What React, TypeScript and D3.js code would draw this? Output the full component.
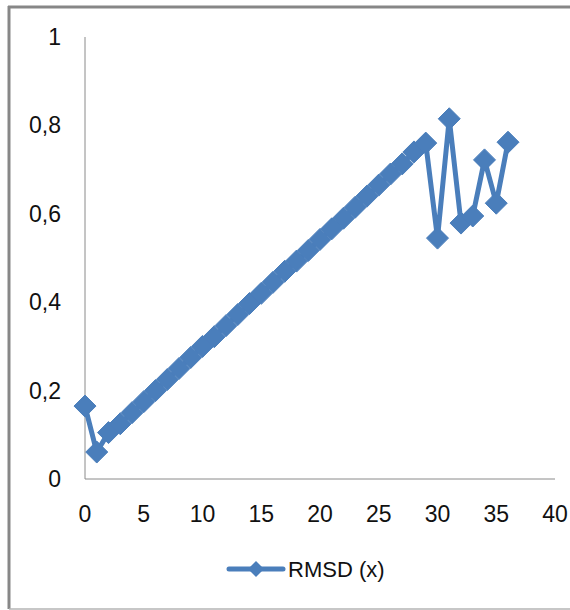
import React from "react";
import * as d3 from "d3";

const xValues: number[] = Array.from({ length: 37 }, (_, i) => i);
const rmsd: number[] = [
  0.165, 0.061, 0.105, 0.125, 0.15, 0.175, 0.2, 0.225, 0.25, 0.275, 0.3,
  0.322, 0.347, 0.372, 0.397, 0.42, 0.445, 0.47, 0.493, 0.517, 0.542, 0.566,
  0.59, 0.615, 0.64, 0.665, 0.69, 0.713, 0.74, 0.76, 0.545, 0.815, 0.579,
  0.595, 0.722, 0.624, 0.762,
];
const xTicks: number[] = [0, 5, 10, 15, 20, 25, 30, 35, 40];
const yTicks: number[] = [0, 0.2, 0.4, 0.6, 0.8, 1];
const seriesName = "RMSD (x)";

const W = 570;
const H = 610;
const color = "#4A7EBB";
const font = "'Liberation Sans', Arial, sans-serif";

export default function App() {
  const x = d3.scaleLinear().domain([0, 40]).range([85, 555]);
  const y = d3.scaleLinear().domain([0, 1]).range([479, 37]);
  const pts = xValues.map((v, i) => [x(v), y(rmsd[i])] as [number, number]);
  const line = d3.line()(pts) || "";
  const diamond = (cx: number, cy: number, r: number) =>
    `M${cx},${cy - r}L${cx + r},${cy}L${cx},${cy + r}L${cx - r},${cy}Z`;
  const fmt = (v: number) => String(v).replace(".", ",");

  return (
    <svg
      width={W}
      height={H}
      style={{ position: "absolute", left: 0, top: 0 }}
    >
      <rect x={0} y={0} width={W} height={H} fill="#fff" />
      {/* frame */}
      <line x1={9} y1={6} x2={9} y2={609} stroke="#878787" strokeWidth={3} />
      <line x1={8} y1={7} x2={W} y2={7} stroke="#878787" strokeWidth={3} />
      <line x1={9} y1={609} x2={W} y2={609} stroke="#b5b5b5" strokeWidth={1.5} />
      {/* axes */}
      <line x1={85} y1={37} x2={85} y2={479} stroke="#8a8a8a" strokeWidth={1} />
      <line x1={85} y1={479} x2={555} y2={479} stroke="#8a8a8a" strokeWidth={1} />
      {yTicks.map((t) => (
        <text
          key={"y" + t}
          x={61}
          y={y(t)}
          textAnchor="end"
          dominantBaseline="central"
          fontFamily={font}
          fontSize={23}
          fill="#111"
        >
          {fmt(t)}
        </text>
      ))}
      {xTicks.map((t) => (
        <text
          key={"x" + t}
          x={x(t)}
          y={514}
          textAnchor="middle"
          dominantBaseline="central"
          fontFamily={font}
          fontSize={23}
          fill="#111"
        >
          {t}
        </text>
      ))}
      {/* series */}
      <path d={line} fill="none" stroke={color} strokeWidth={5} strokeLinejoin="round" />
      {pts.map(([cx, cy], i) => (
        <path key={i} d={diamond(cx, cy, 11)} fill={color} stroke={color} strokeWidth={1} />
      ))}
      {/* legend */}
      <line x1={229} y1={569} x2={283} y2={569} stroke={color} strokeWidth={5} strokeLinecap="round" />
      <path d={diamond(256, 569, 8)} fill={color} />
      <text
        x={288}
        y={569}
        dominantBaseline="central"
        fontFamily={font}
        fontSize={22}
        fill="#111"
      >
        {seriesName}
      </text>
    </svg>
  );
}
